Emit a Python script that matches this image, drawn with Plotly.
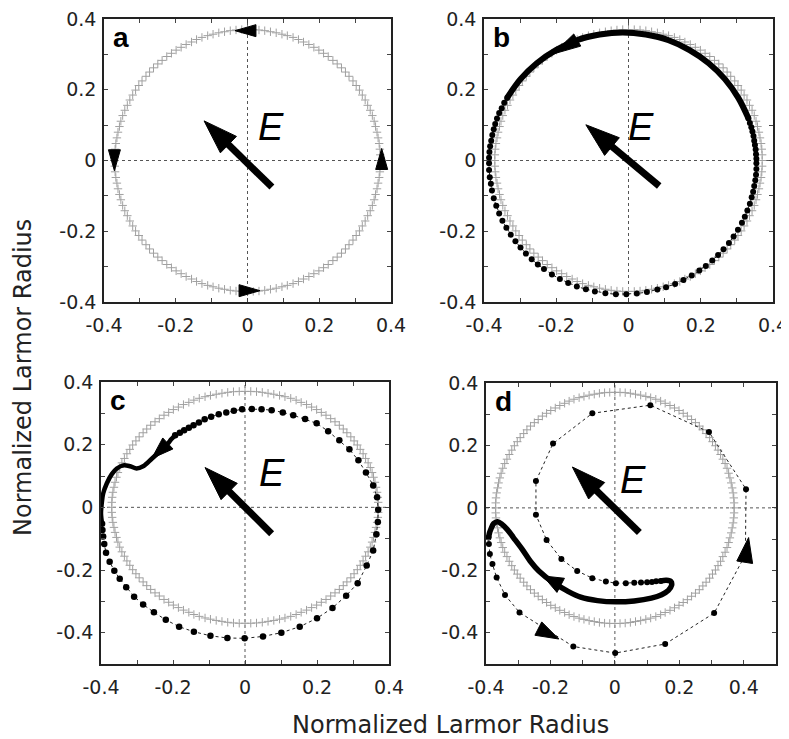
import math
import plotly.graph_objects as go

# page is shown with an 8px body margin, so the figure is offset by 8px
OFF = 8
W, H = 800, 739 - OFF

# ---------------- data ----------------
# unperturbed Larmor orbit (gray "+" markers), radius ~0.37
ref_orbit_x = [0.370, 0.370, 0.369, 0.367, 0.364, 0.361, 0.357, 0.353, 0.348, 0.342, 0.335, 0.328, 0.320, 0.312, 0.303, 0.294, 0.283, 0.273, 0.262, 0.250, 0.238, 0.225, 0.212, 0.199, 0.185, 0.171, 0.156, 0.142, 0.127, 0.111, 0.096, 0.080, 0.064, 0.048, 0.032, 0.016,
               0.000, -0.016, -0.032, -0.048, -0.064, -0.080, -0.096, -0.111, -0.127, -0.142, -0.156, -0.171, -0.185, -0.199, -0.212, -0.225, -0.238, -0.250, -0.262, -0.273, -0.283, -0.294, -0.303, -0.312, -0.320, -0.328, -0.335, -0.342, -0.348, -0.353, -0.357, -0.361, -0.364, -0.367, -0.369, -0.370,
               -0.370, -0.370, -0.369, -0.367, -0.364, -0.361, -0.357, -0.353, -0.348, -0.342, -0.335, -0.328, -0.320, -0.312, -0.303, -0.294, -0.283, -0.273, -0.262, -0.250, -0.238, -0.225, -0.212, -0.199, -0.185, -0.171, -0.156, -0.142, -0.127, -0.111, -0.096, -0.080, -0.064, -0.048, -0.032, -0.016,
               0.000, 0.016, 0.032, 0.048, 0.064, 0.080, 0.096, 0.111, 0.127, 0.142, 0.156, 0.171, 0.185, 0.199, 0.212, 0.225, 0.238, 0.250, 0.262, 0.273, 0.283, 0.294, 0.303, 0.312, 0.320, 0.328, 0.335, 0.342, 0.348, 0.353, 0.357, 0.361, 0.364, 0.367, 0.369, 0.370]
ref_orbit_y = [0.000, 0.016, 0.032, 0.048, 0.064, 0.080, 0.096, 0.111, 0.127, 0.142, 0.156, 0.171, 0.185, 0.199, 0.212, 0.225, 0.238, 0.250, 0.262, 0.273, 0.283, 0.294, 0.303, 0.312, 0.320, 0.328, 0.335, 0.342, 0.348, 0.353, 0.357, 0.361, 0.364, 0.367, 0.369, 0.370,
               0.370, 0.370, 0.369, 0.367, 0.364, 0.361, 0.357, 0.353, 0.348, 0.342, 0.335, 0.328, 0.320, 0.312, 0.303, 0.294, 0.283, 0.273, 0.262, 0.250, 0.238, 0.225, 0.212, 0.199, 0.185, 0.171, 0.156, 0.142, 0.127, 0.111, 0.096, 0.080, 0.064, 0.048, 0.032, 0.016,
               0.000, -0.016, -0.032, -0.048, -0.064, -0.080, -0.096, -0.111, -0.127, -0.142, -0.156, -0.171, -0.185, -0.199, -0.212, -0.225, -0.238, -0.250, -0.262, -0.273, -0.283, -0.294, -0.303, -0.312, -0.320, -0.328, -0.335, -0.342, -0.348, -0.353, -0.357, -0.361, -0.364, -0.367, -0.369, -0.370,
               -0.370, -0.370, -0.369, -0.367, -0.364, -0.361, -0.357, -0.353, -0.348, -0.342, -0.335, -0.328, -0.320, -0.312, -0.303, -0.294, -0.283, -0.273, -0.262, -0.250, -0.238, -0.225, -0.212, -0.199, -0.185, -0.171, -0.156, -0.142, -0.127, -0.111, -0.096, -0.080, -0.064, -0.048, -0.032, -0.016]

# panel b: sparse dots and dense (continuous) top part
b_dots_x = [-0.336, -0.344, -0.351, -0.358, -0.364, -0.369, -0.373, -0.377, -0.380, -0.383, -0.385, -0.386, -0.386,
            -0.386, -0.384, -0.381, -0.378, -0.373, -0.366, -0.358, -0.349, -0.338, -0.326, -0.313, -0.299, -0.284, -0.268, -0.251, -0.234,
            -0.212, -0.190, -0.167, -0.143, -0.118, -0.093, -0.064, -0.035, -0.006, 0.023, 0.051, 0.080, 0.104, 0.129, 0.152, 0.175,
            0.196, 0.214, 0.232, 0.248, 0.263, 0.278, 0.291, 0.303, 0.314, 0.322, 0.329, 0.336, 0.341,
            0.345, 0.348, 0.351, 0.353, 0.354, 0.354, 0.354, 0.353, 0.352, 0.350, 0.348, 0.346, 0.343, 0.340, 0.336, 0.332]
b_dots_y = [0.177, 0.163, 0.148, 0.134, 0.119, 0.103, 0.088, 0.072, 0.056, 0.040, 0.024, 0.008, -0.008,
            -0.027, -0.047, -0.066, -0.085, -0.107, -0.128, -0.150, -0.170, -0.190, -0.210, -0.228, -0.246, -0.263, -0.279, -0.294, -0.307,
            -0.322, -0.335, -0.346, -0.356, -0.364, -0.370, -0.375, -0.378, -0.378, -0.376, -0.372, -0.365, -0.358, -0.349, -0.338, -0.325,
            -0.311, -0.298, -0.283, -0.267, -0.251, -0.233, -0.215, -0.196, -0.176, -0.159, -0.141, -0.122, -0.104,
            -0.088, -0.072, -0.056, -0.040, -0.024, -0.008, 0.005, 0.018, 0.031, 0.044, 0.056, 0.069, 0.082, 0.094, 0.106, 0.119]
b_dense_x = [0.332, 0.304, 0.267, 0.222, 0.169, 0.111, 0.048, -0.016, -0.080, -0.143, -0.201, -0.254, -0.299, -0.336]
b_dense_y = [0.119, 0.177, 0.230, 0.275, 0.312, 0.340, 0.356, 0.362, 0.356, 0.340, 0.312, 0.275, 0.230, 0.177]

# panel c
c_dots_x = [-0.397, -0.396, -0.394, -0.391, -0.386, -0.376, -0.363, -0.348, -0.330, -0.308, -0.283, -0.253, -0.220, -0.183,
            -0.142, -0.096, -0.049, -0.001, 0.050, 0.101, 0.152, 0.200, 0.243, 0.281, 0.313, 0.338, 0.356, 0.365, 0.369,
            0.370, 0.367, 0.356, 0.336, 0.315, 0.290, 0.262, 0.231, 0.199, 0.167, 0.134, 0.105, 0.074, 0.046, 0.019,
            -0.008, -0.031, -0.052, -0.073, -0.094, -0.112, -0.128, -0.143, -0.156, -0.169, -0.181, -0.194]
c_dots_y = [-0.052, -0.072, -0.093, -0.117, -0.145, -0.174, -0.202, -0.228, -0.255, -0.285, -0.310, -0.335, -0.359, -0.381,
            -0.397, -0.410, -0.417, -0.418, -0.412, -0.400, -0.381, -0.354, -0.321, -0.282, -0.242, -0.186, -0.138, -0.086, -0.047,
            -0.008, 0.032, 0.070, 0.111, 0.150, 0.185, 0.214, 0.243, 0.268, 0.282, 0.294, 0.303, 0.310, 0.313, 0.314,
            0.313, 0.308, 0.303, 0.297, 0.289, 0.281, 0.271, 0.262, 0.254, 0.246, 0.238, 0.230]
c_dense_x = [-0.194, -0.205, -0.214, -0.240, -0.259, -0.283, -0.301, -0.319, -0.338, -0.356, -0.370, -0.384, -0.394, -0.398, -0.400, -0.397]
c_dense_y = [0.230, 0.217, 0.204, 0.175, 0.155, 0.131, 0.124, 0.131, 0.134, 0.124, 0.106, 0.076, 0.044, 0.012, -0.020, -0.052]

# panel d
d_dots_x = [-0.392, -0.391, -0.388, -0.380, -0.367, -0.341, -0.296, -0.129, 0.001, 0.156, 0.308, 0.405, 0.407, 0.292, 0.110,
            -0.070, -0.192, -0.245, -0.245, -0.212, -0.166, -0.117, -0.070, -0.028, 0.003, 0.034, 0.060, 0.081, 0.100, 0.115, 0.128, 0.142]
d_dots_y = [-0.095, -0.116, -0.148, -0.180, -0.223, -0.279, -0.335, -0.444, -0.465, -0.436, -0.337, -0.150, 0.060, 0.243, 0.329,
            0.303, 0.206, 0.086, -0.022, -0.103, -0.164, -0.202, -0.225, -0.236, -0.241, -0.241, -0.240, -0.239, -0.238, -0.237, -0.235, -0.234]
d_dense_x = [0.142, 0.160, 0.174, 0.176, 0.166, 0.145, 0.113, 0.060, 0.003, -0.054, -0.106, -0.148, -0.190, -0.236, -0.263,
             -0.288, -0.315, -0.335, -0.351, -0.364, -0.376, -0.384, -0.389, -0.392]
d_dense_y = [-0.234, -0.232, -0.236, -0.248, -0.264, -0.278, -0.289, -0.298, -0.301, -0.297, -0.286, -0.266, -0.240, -0.202, -0.170,
             -0.132, -0.095, -0.068, -0.052, -0.044, -0.050, -0.066, -0.080, -0.095]

# direction arrowheads on the trajectories: tip x, tip y, direction (deg), length px, width px
a_heads = [(-0.035, 0.367, 180, 21, 12), (-0.371, -0.029, 270, 21, 12), (0.035, -0.368, 0, 21, 12), (0.374, 0.034, 90, 21, 12)]
b_heads = [(-0.209, 0.301, 210, 28, 14)]
c_heads = [(-0.259, 0.156, 223, 22, 15)]
d_heads = [(-0.174, -0.420, 333, 23, 15), (0.415, -0.095, 81, 25, 16), (-0.223, -0.218, 152, 20, 16)]

# field arrow E: tail and tip per panel, and label position
E_tail_x = [0.068, 0.085, 0.074, 0.076]
E_tail_y = [-0.075, -0.072, -0.084, -0.079]
E_tip_x = [-0.121, -0.118, -0.111, -0.132]
E_tip_y = [0.112, 0.101, 0.127, 0.131]
E_label_x = [0.065, 0.035, 0.076, 0.055]
E_label_y = [0.095, 0.094, 0.110, 0.088]

panel_letters = ["a", "b", "c", "d"]

tick_vals = [-0.4, -0.3, -0.2, -0.1, 0, 0.1, 0.2, 0.3, 0.4]
tick_text = ["-0.4", "", "-0.2", "", "0", "", "0.2", "", "0.4"]

axis_title = "Normalized Larmor Radius"

# ---------------- layout geometry ----------------
# pixel boxes on screen (left, right, top, bottom) and ranges
panels = [
    dict(box=(104, 391, 19, 302), xr=[-0.4, 0.4], yr=[-0.4, 0.4]),
    dict(box=(484, 773, 19, 302), xr=[-0.4, 0.4], yr=[-0.4, 0.4]),
    dict(box=(101, 389, 382, 664), xr=[-0.4, 0.4], yr=[-0.5, 0.4]),
    dict(box=(486, 776, 383, 664), xr=[-0.4, 0.5], yr=[-0.5, 0.4]),
]


def px_x(v):
    return (v - OFF) / W


def px_y(v):
    return 1 - (v - OFF) / H


fig = go.Figure()
layout = dict(width=W, height=H, margin=dict(l=0, r=0, t=0, b=0, pad=0, autoexpand=False),
              paper_bgcolor="white", plot_bgcolor="white", showlegend=False)
shapes = []
annotations = []

TICK_FONT = dict(family="DejaVu Sans", size=19, color="#222222")


def ax_names(i):
    s = "" if i == 0 else str(i + 1)
    return "x" + s, "y" + s, "xaxis" + s, "yaxis" + s


def head_path(tx, ty, ang, L, Wd, sx, sy):
    t = math.radians(ang)
    ux, uy = math.cos(t), math.sin(t)
    bx, by = tx - L * ux / sx, ty - L * uy / sy
    nx, ny = -uy, ux
    p1 = (bx + 0.5 * Wd * nx / sx, by + 0.5 * Wd * ny / sy)
    p2 = (bx - 0.5 * Wd * nx / sx, by - 0.5 * Wd * ny / sy)
    return "M {:.5f},{:.5f} L {:.5f},{:.5f} L {:.5f},{:.5f} Z".format(tx, ty, p1[0], p1[1], p2[0], p2[1])


dots = [None, (b_dots_x, b_dots_y), (c_dots_x, c_dots_y), (d_dots_x, d_dots_y)]
dense = [None, (b_dense_x, b_dense_y, 6), (c_dense_x, c_dense_y, 4.5), (d_dense_x, d_dense_y, 5.5)]
dot_size = [0, 6, 6.5, 6]
heads = [a_heads, b_heads, c_heads, d_heads]

for i, p in enumerate(panels):
    xa, ya, xk, yk = ax_names(i)
    l, r, t, b = p["box"]
    xdom = [px_x(l), px_x(r)]
    ydom = [px_y(b), px_y(t)]
    sx = (r - l) / (p["xr"][1] - p["xr"][0])
    sy = (b - t) / (p["yr"][1] - p["yr"][0])

    xt_v, xt_t = list(tick_vals), list(tick_text)
    yt_v, yt_t = list(tick_vals), list(tick_text)
    if p["xr"][1] > 0.45:
        xt_v.append(0.5); xt_t.append("")
    if p["yr"][0] < -0.45:
        yt_v.insert(0, -0.5); yt_t.insert(0, "")

    common = dict(showgrid=False, zeroline=False, showline=True, mirror="ticks",
                  linecolor="#222222", linewidth=1.6, ticks="inside", ticklen=4,
                  tickwidth=1, tickcolor="#444444", tickfont=TICK_FONT, fixedrange=True,
                  automargin=False, ticklabeloverflow="allow")
    layout[xk] = dict(domain=xdom, range=p["xr"], anchor=ya, tickvals=xt_v, ticktext=xt_t,
                      ticklabelstandoff=5, **common)
    layout[yk] = dict(domain=ydom, range=p["yr"], anchor=xa, tickvals=yt_v, ticktext=yt_t,
                      ticklabelstandoff=2, **common)

    # crosshair dotted lines
    shapes.append(dict(type="line", xref=xa, yref=ya + " domain", x0=0, x1=0, y0=0, y1=1,
                       line=dict(color="#555555", width=1, dash="dot"), layer="below"))
    shapes.append(dict(type="line", xref=xa + " domain", yref=ya, x0=0, x1=1, y0=0, y1=0,
                       line=dict(color="#555555", width=1, dash="dot"), layer="below"))

    # reference orbit
    fig.add_trace(go.Scatter(x=ref_orbit_x, y=ref_orbit_y, mode="markers", xaxis=xa, yaxis=ya,
                             marker=dict(symbol="cross-thin", size=6, color="#a0a0a0",
                                         line=dict(width=1, color="#a0a0a0")),
                             hoverinfo="skip"))
    if dots[i] is not None:
        dx, dy = dots[i]
        fig.add_trace(go.Scatter(x=dx, y=dy, mode="lines+markers", xaxis=xa, yaxis=ya,
                                 line=dict(color="#222222", width=1, dash="dot"),
                                 marker=dict(size=dot_size[i], color="black"), hoverinfo="skip"))
        lx, ly, lw = dense[i]
        fig.add_trace(go.Scatter(x=lx, y=ly, mode="lines", xaxis=xa, yaxis=ya,
                                 line=dict(color="black", width=lw, shape="spline"), hoverinfo="skip"))

    # direction arrowheads
    for (tx, ty, ang, L, Wd) in heads[i]:
        shapes.append(dict(type="path", xref=xa, yref=ya, path=head_path(tx, ty, ang, L, Wd, sx, sy),
                           fillcolor="black", line=dict(color="black", width=1), layer="above"))

    # E field arrow
    tx0, ty0 = E_tail_x[i], E_tail_y[i]
    tx1, ty1 = E_tip_x[i], E_tip_y[i]
    ang = math.degrees(math.atan2((ty1 - ty0) * sy, (tx1 - tx0) * sx))
    Lh, Wh = 34, 23
    ua = math.radians(ang)
    bx = tx1 - (Lh - 3) * math.cos(ua) / sx
    by = ty1 - (Lh - 3) * math.sin(ua) / sy
    shapes.append(dict(type="line", xref=xa, yref=ya, x0=tx0, y0=ty0, x1=bx, y1=by,
                       line=dict(color="black", width=7), layer="above"))
    shapes.append(dict(type="path", xref=xa, yref=ya, path=head_path(tx1, ty1, ang, Lh, Wh, sx, sy),
                       fillcolor="black", line=dict(color="black", width=1), layer="above"))
    annotations.append(dict(x=E_label_x[i], y=E_label_y[i], xref=xa, yref=ya, text="<i>E</i>",
                            showarrow=False, xanchor="center", yanchor="middle",
                            font=dict(family="Liberation Sans", size=38, color="black")))

    # panel letter
    annotations.append(dict(x=0.025, y=0.935, xref=xa + " domain", yref=ya + " domain",
                            text="<b>" + panel_letters[i] + "</b>", showarrow=False,
                            xanchor="left", yanchor="middle",
                            font=dict(family="Liberation Sans", size=28, color="black")))

# global axis titles
annotations.append(dict(x=px_x(450), y=px_y(725), xref="paper", yref="paper", text=axis_title,
                        showarrow=False, xanchor="center", yanchor="middle",
                        font=dict(family="DejaVu Sans", size=24, color="#222222")))
annotations.append(dict(x=px_x(23), y=px_y(378), xref="paper", yref="paper", text=axis_title,
                        showarrow=False, textangle=-90, xanchor="center", yanchor="middle",
                        font=dict(family="DejaVu Sans", size=24, color="#222222")))

layout["shapes"] = shapes
layout["annotations"] = annotations
fig.update_layout(**layout)
fig.write_html("out.html")
